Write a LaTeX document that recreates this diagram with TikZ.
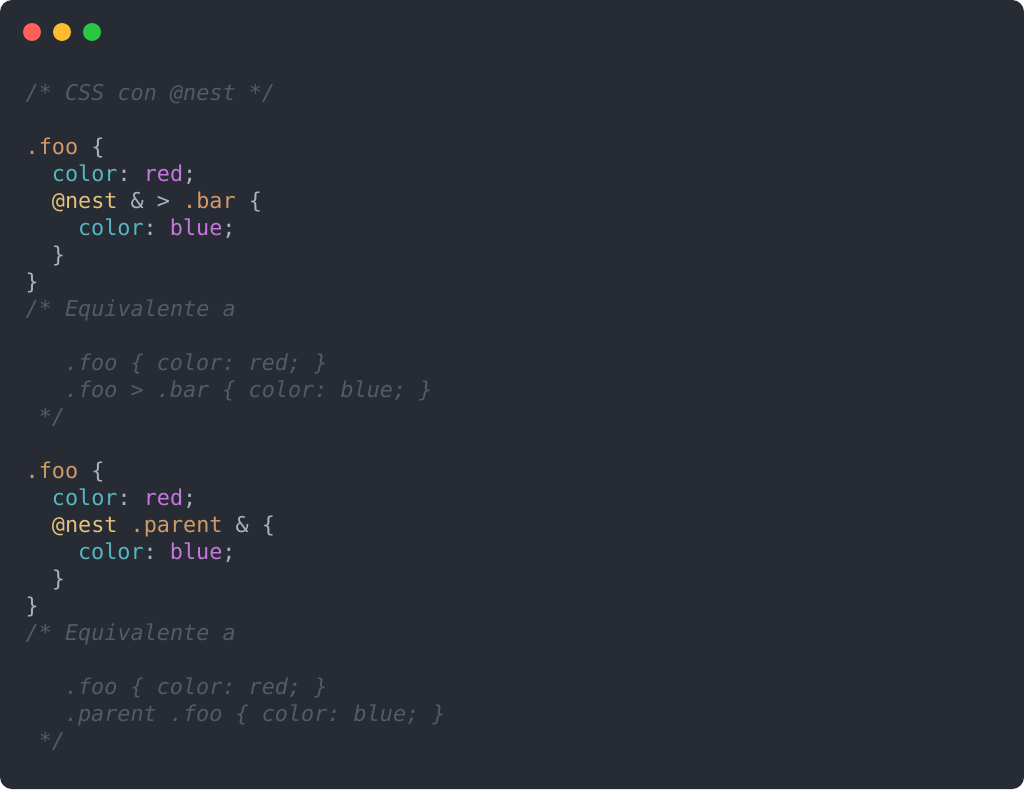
\documentclass[tikz,border=0pt]{standalone}
\usepackage{fontspec}
\setmonofont{DejaVu Sans Mono}
\definecolor{bgc}{HTML}{272B34}
\definecolor{cmt}{HTML}{545A66}
\definecolor{org}{HTML}{D19A66}
\definecolor{ylw}{HTML}{E5C07B}
\definecolor{cyn}{HTML}{56B6C2}
\definecolor{pur}{HTML}{C678DD}
\definecolor{pnc}{HTML}{ABB2BF}
\definecolor{lred}{HTML}{FF5F57}
\definecolor{lylw}{HTML}{FEBC2E}
\definecolor{lgrn}{HTML}{28C840}
\newcommand{\Cm}[1]{{\itshape\color{cmt}#1}}
\newcommand{\Or}[1]{\textcolor{org}{#1}}
\newcommand{\Yl}[1]{\textcolor{ylw}{#1}}
\newcommand{\Cy}[1]{\textcolor{cyn}{#1}}
\newcommand{\Pu}[1]{\textcolor{pur}{#1}}
\begin{document}
\begin{tikzpicture}[x=1pt,y=-1pt,
  code/.style={anchor=base west,inner sep=0pt,text=pnc,font=\ttfamily\fontsize{21.8}{27}\selectfont}]
\useasboundingbox (0,0) rectangle (1024,789);
\fill[white] (0,0) rectangle (1024,789);
\fill[bgc,rounded corners=12pt] (0,0) rectangle (1024,789);
\fill[lred] (32,32) circle (9) node (r) {};
\fill[lylw] (62,32) circle (9) node (y) {};
\fill[lgrn] (92,32) circle (9) node (g) {};
\def\L#1#2#3#4{\node[code] (#1) at ({25.5+13.1*#2},{100+27*#3}) {#4};}
\L{a0}{0}{0}{\Cm{/* CSS con @nest */}}
\L{a2}{0}{2}{\Or{.foo} \{}
\L{a3}{2}{3}{\Cy{color}: \Pu{red};}
\L{a4}{2}{4}{\Yl{@nest} \& > \Or{.bar} \{}
\L{a5}{4}{5}{\Cy{color}: \Pu{blue};}
\L{a6}{2}{6}{\}}
\L{a7}{0}{7}{\}}
\L{a8}{0}{8}{\Cm{/* Equivalente a}}
\L{a10}{3}{10}{\Cm{.foo \{ color: red; \}}}
\L{a11}{3}{11}{\Cm{.foo > .bar \{ color: blue; \}}}
\L{a12}{1}{12}{\Cm{*/}}
\L{b2}{0}{14}{\Or{.foo} \{}
\L{b3}{2}{15}{\Cy{color}: \Pu{red};}
\L{b4}{2}{16}{\Yl{@nest} \Or{.parent} \& \{}
\L{b5}{4}{17}{\Cy{color}: \Pu{blue};}
\L{b6}{2}{18}{\}}
\L{b7}{0}{19}{\}}
\L{b8}{0}{20}{\Cm{/* Equivalente a}}
\L{b10}{3}{22}{\Cm{.foo \{ color: red; \}}}
\L{b11}{3}{23}{\Cm{.parent .foo \{ color: blue; \}}}
\L{b12}{1}{24}{\Cm{*/}}
\end{tikzpicture}
\end{document}
